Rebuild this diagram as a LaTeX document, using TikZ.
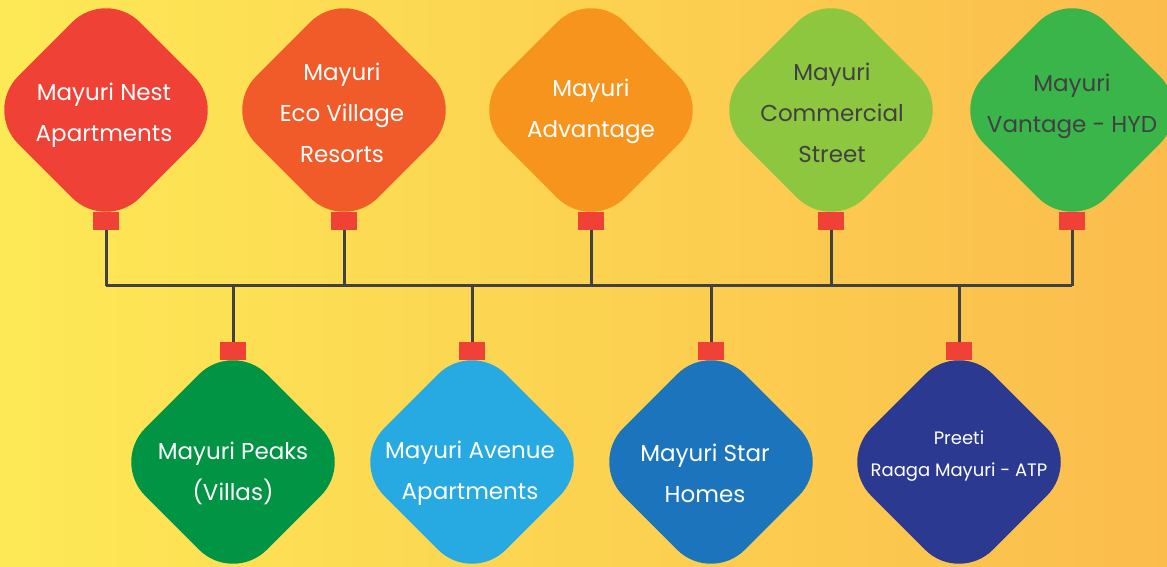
\documentclass[tikz,border=0pt]{standalone}
\usepackage{fontspec}
\setmainfont{Poppins}
\usepackage{tikz}
\usetikzlibrary{positioning}
\usetikzlibrary{calc}
\definecolor{bgleft}{RGB}{253,233,86}
\definecolor{bgright}{RGB}{251,188,76}
\definecolor{cNest}{HTML}{EF4136}
\definecolor{cEco}{HTML}{F15A29}
\definecolor{cAdv}{HTML}{F7941D}
\definecolor{cCom}{HTML}{8DC63F}
\definecolor{cVan}{HTML}{39B54A}
\definecolor{cPeak}{HTML}{009444}
\definecolor{cAve}{HTML}{27AAE1}
\definecolor{cStar}{HTML}{1C75BC}
\definecolor{cPre}{HTML}{2B3990}
\definecolor{tagred}{HTML}{EF4136}
\definecolor{wire}{HTML}{414042}

\tikzset{
  petal/.style={rectangle, rounded corners=48pt, rotate=45, minimum size=172pt,
    inner sep=0pt, outer sep=0pt},
  tag/.style={rectangle, fill=tagred, minimum width=26pt, minimum height=18pt,
    inner sep=0pt, outer sep=0pt},
  wire/.style={draw=wire, line width=3pt},
  lbl/.style={align=center, font=\fontsize{23}{41}\selectfont, text=white},
}

\begin{document}
\begin{tikzpicture}[x=1pt, y=1pt]
    \useasboundingbox (0, 0) rectangle (1167, 567);
    \shade[left color=bgleft, right color=bgright] (0, 0) rectangle (1167, 567);

    % top row
    \foreach \n/\x/\c in {nest/106/cNest, eco/344/cEco, adv/591/cAdv, com/831/cCom, van/1072/cVan} {
      \node[tag] (\n-tag) at (\x, 346) {};
      \node[petal, fill=\c] (\n) at (\x, 457) {};
    }

    % bottom row
    \foreach \n/\x/\c in {peak/233/cPeak, ave/472/cAve, star/711/cStar, pre/959/cPre} {
      \node[tag] (\n-tag) at (\x, 216) {};
      \node[petal, fill=\c] (\n) at (\x, 105) {};
    }

    % bus
    \coordinate (busL) at (nest-tag.south |- 0, 281);
    \coordinate (busR) at (van-tag.south |- 0, 281);
    \draw[wire] (busL) -- (busR);
    \foreach \n in {nest, eco, adv, com, van} {
      \draw[wire] (\n-tag.south) -- (\n-tag.south |- busL);
    }
    \foreach \n in {peak, ave, star, pre} {
      \draw[wire] (\n-tag.north) -- (\n-tag.north |- busL);
    }

    \node[lbl] (nest-t) at ($(nest) + (-2, -5)$) {Mayuri Nest\\Apartments};
    \node[lbl] (eco-t) at ($(eco) + (-2, -3)$) {Mayuri\\Eco Village\\Resorts};
    \node[lbl] (adv-t) at ($(adv) + (0, -1)$) {Mayuri\\Advantage};
    \node[lbl, text=wire] (com-t) at ($(com) + (1, -3)$) {Mayuri\\Commercial\\Street};
    \node[lbl, text=wire] (van-t) at ($(van) + (0, 4)$) {Mayuri\\Vantage - HYD};

    \node[lbl] (peak-t) at ($(peak) + (0, -11)$) {Mayuri Peaks\\(Villas)};
    \node[lbl] (ave-t) at ($(ave) + (-2, -11)$) {Mayuri Avenue\\Apartments};
    \node[lbl] (star-t) at ($(star) + (-6, -11)$) {Mayuri Star\\Homes};
    \node[lbl, font=\fontsize{18}{32}\selectfont] (pre-t) at ($(pre) + (0, 6)$) {Preeti\\Raaga Mayuri - ATP};
\end{tikzpicture}
\end{document}
